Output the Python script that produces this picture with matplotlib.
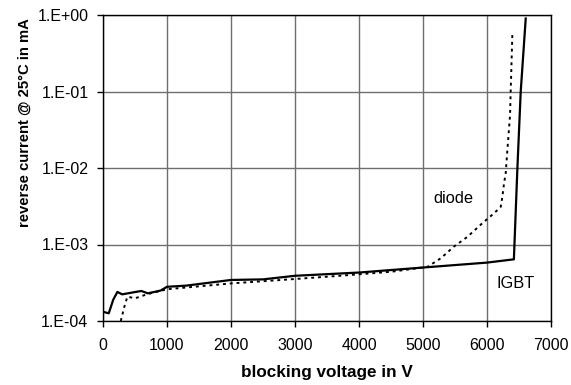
import matplotlib.pyplot as plt
from matplotlib.ticker import FixedLocator, FixedFormatter

plt.rcParams['font.family'] = ['Liberation Sans', 'DejaVu Sans']

# IGBT reverse current (solid)
igbt_v = [0, 90, 160, 225, 300, 450, 600, 700, 900, 1000, 1300, 2000, 2500, 3000,
          4000, 5000, 6000, 6420, 6475, 6527, 6605]
igbt_i = [1.32e-4, 1.26e-4, 1.9e-4, 2.4e-4, 2.23e-4, 2.35e-4, 2.47e-4, 2.3e-4, 2.5e-4,
          2.8e-4, 2.9e-4, 3.44e-4, 3.5e-4, 3.9e-4, 4.3e-4, 5.0e-4, 5.8e-4, 6.4e-4,
          1.0e-2, 1.0e-1, 9.0e-1]

# diode reverse current (dotted)
diode_v = [278, 330, 381, 500, 700, 1000, 2000, 3000, 3700, 4500, 5069, 5277, 5484,
           5694, 5928, 6110, 6214, 6240, 6266, 6292, 6318, 6360, 6370, 6396]
diode_i = [1.0e-4, 1.5e-4, 2.08e-4, 1.98e-4, 2.25e-4, 2.6e-4, 3.1e-4, 3.54e-4, 3.9e-4,
           4.4e-4, 5.1e-4, 6.6e-4, 9.4e-4, 1.26e-3, 1.9e-3, 2.56e-3, 3.1e-3, 4.2e-3,
           6.3e-3, 8.5e-3, 1.7e-2, 4.9e-2, 1.0e-1, 5.5e-1]

y_ticks = [1e-4, 1e-3, 1e-2, 1e-1, 1e0]
y_labels = ['1.E-04', '1.E-03', '1.E-02', '1.E-01', '1.E+00']
x_ticks = [0, 1000, 2000, 3000, 4000, 5000, 6000, 7000]

fig = plt.figure(figsize=(5.71, 3.85), dpi=100)
ax = fig.add_axes([103 / 571, 1 - 321 / 385, 448 / 571, 306 / 385])

ax.plot(igbt_v, igbt_i, color='black', lw=1.6, solid_joinstyle='round')
ax.plot(diode_v, diode_i, color='black', lw=1.4, ls=(0, (1.5, 2)))

ax.set_yscale('log')
ax.set_xlim(0, 7000)
ax.set_ylim(1e-4, 1e0)
ax.yaxis.set_major_locator(FixedLocator(y_ticks))
ax.yaxis.set_major_formatter(FixedFormatter(y_labels))
ax.yaxis.set_minor_locator(FixedLocator([]))
ax.set_xticks(x_ticks)

ax.grid(True, color='#6e6e6e', lw=1.0)
ax.set_axisbelow(True)
for s in ax.spines.values():
    s.set_color('black')
    s.set_linewidth(1.0)

ax.tick_params(direction='out', length=4, width=1, labelsize=11.5, colors='black')
ax.tick_params(axis='x', pad=8)
ax.tick_params(axis='y', pad=6.5)

# axis titles placed as in the original (y title sits above the axis centre)
fig.text(327 / 571, 1 - 373 / 385, 'blocking voltage in V', fontsize=12.3,
         fontweight='bold', ha='center', va='center')
fig.text(25 / 571, 1 - 123 / 385, 'reverse current @ 25°C in mA', fontsize=10.7,
         fontweight='bold', ha='center', va='center', rotation=90)

ax.text(5480, 4.05e-3, 'diode', fontsize=11.8, ha='center', va='center')
ax.text(6448, 3.1e-4, 'IGBT', fontsize=11.8, ha='center', va='center')

fig.savefig('out.png', dpi=100)
